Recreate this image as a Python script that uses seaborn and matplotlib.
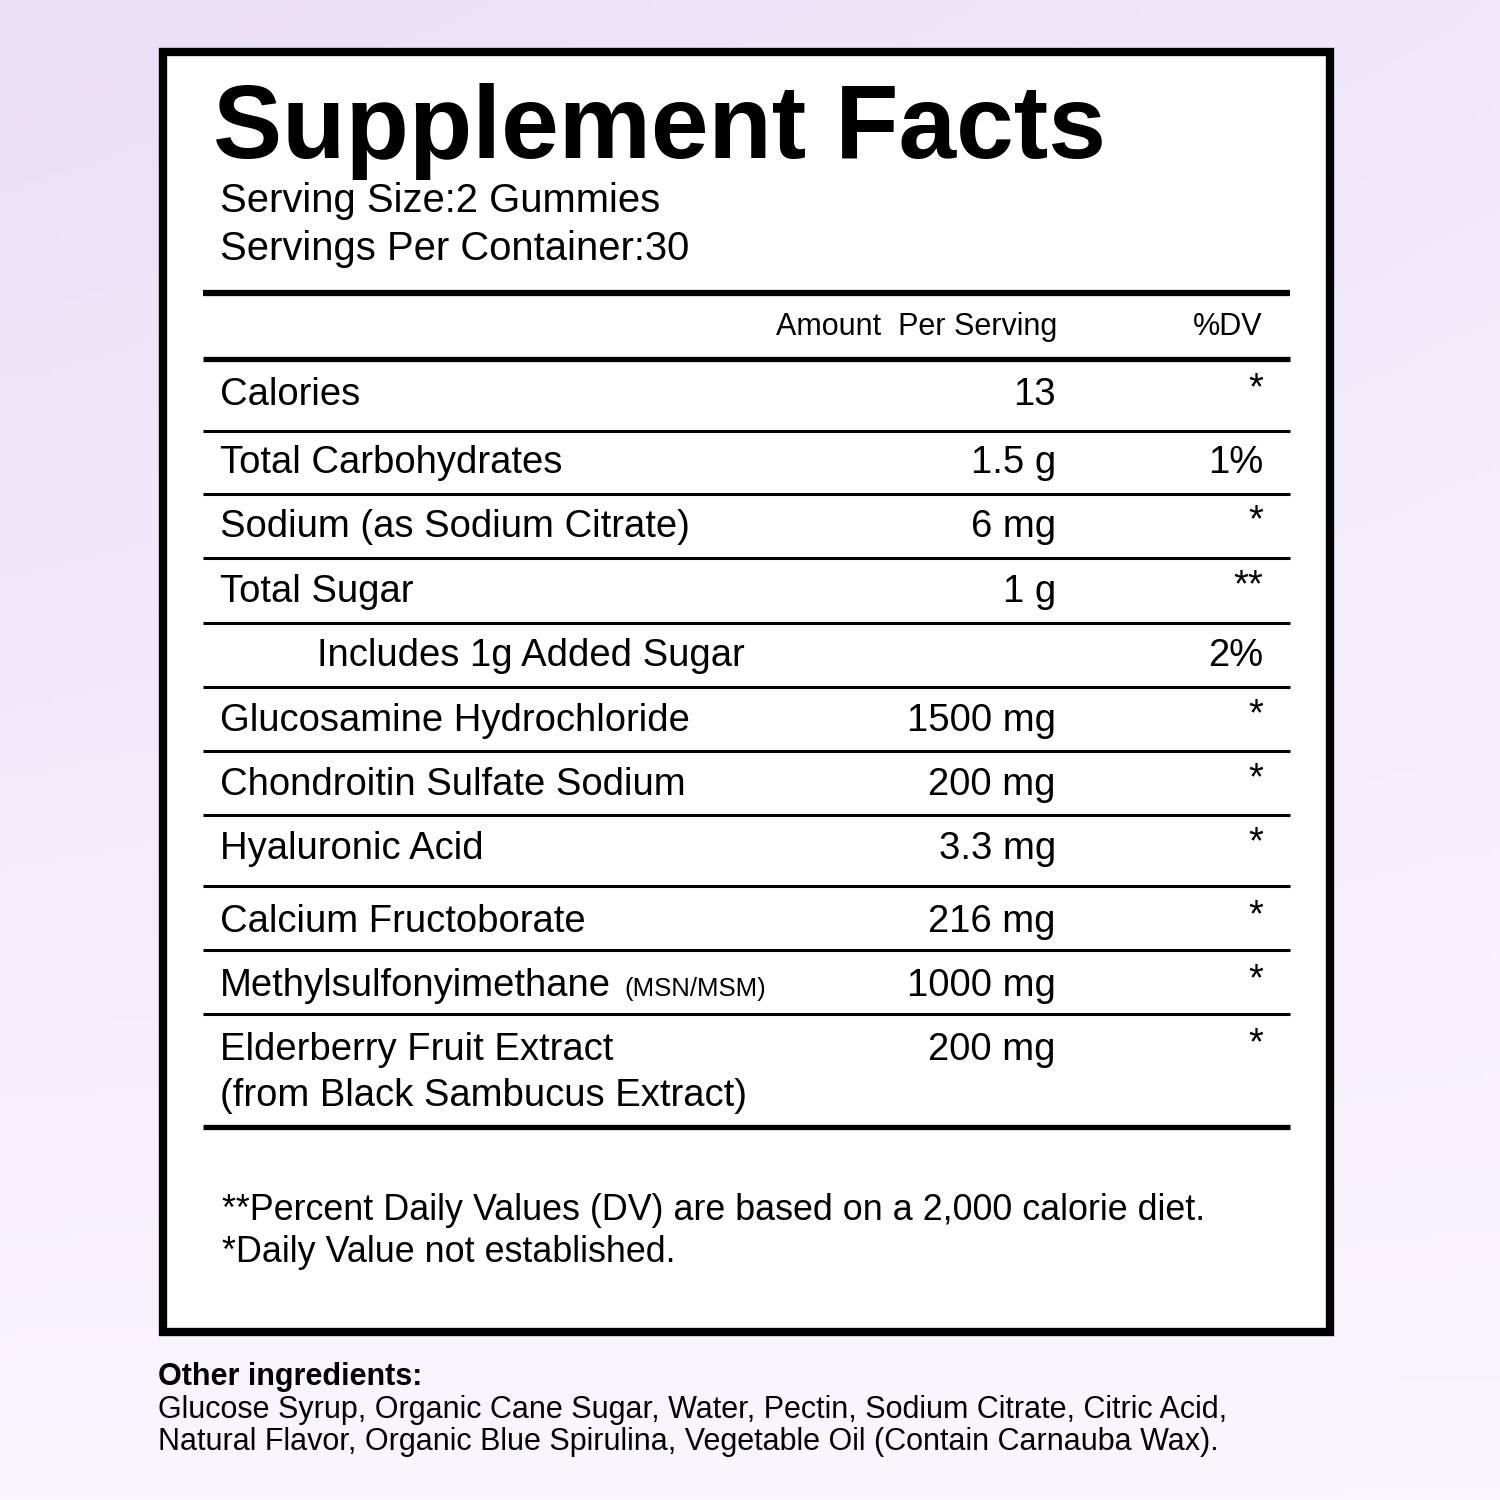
import numpy as np
import matplotlib
matplotlib.use("Agg")
import matplotlib.pyplot as plt
import seaborn as sns

sns.set_theme(style="white")
plt.rcParams['font.family'] = ['Liberation Sans', 'DejaVu Sans']
plt.rcParams['text.color'] = 'black'

title = "Supplement Facts"
serving_lines = ["Serving Size:2 Gummies", "Servings Per Container:30"]
nutrients = ["Calories", "Total Carbohydrates", "Sodium (as Sodium Citrate)", "Total Sugar",
             "Includes 1g Added Sugar", "Glucosamine Hydrochloride", "Chondroitin Sulfate Sodium",
             "Hyaluronic Acid", "Calcium Fructoborate", "Methylsulfonyimethane",
             "Elderberry Fruit Extract"]
amounts = ["13", "1.5 g", "6 mg", "1 g", "", "1500 mg", "200 mg", "3.3 mg", "216 mg", "1000 mg", "200 mg"]
dvs = ["*", "1%", "*", "**", "2%", "*", "*", "*", "*", "*", "*"]
footnotes = ["**Percent Daily Values (DV) are based on a 2,000 calorie diet.",
             "*Daily Value not established."]
other_title = "Other ingredients:"
other_lines = ["Glucose Syrup, Organic Cane Sugar, Water, Pectin, Sodium Citrate, Citric Acid,",
               "Natural Flavor, Organic Blue Spirulina, Vegetable Oil (Contain Carnauba Wax)."]

row_y = [395, 463, 527, 592, 656, 721, 785, 849, 922, 986, 1050]
line_y = [431, 494, 558, 623, 687, 751, 815, 886, 950, 1014]

fig = plt.figure(figsize=(15, 15), dpi=100)
ax = fig.add_axes([0, 0, 1, 1])
ax.set_xlim(0, 1500); ax.set_ylim(1500, 0); ax.axis('off')

yy, xx = np.mgrid[0:1:200j, 0:1:200j]
t = np.clip(0.55 * (1 - yy) + 0.35 * (1 - xx) * (1 - yy) + 0.15, 0, 1)
c1 = np.array([0.99, 0.98, 1.0]); c2 = np.array([0.92, 0.88, 0.97])
img = c1 + (c2 - c1) * t[..., None]
ax.imshow(img, extent=[0, 1500, 1500, 0], aspect='auto', zorder=0)

ax.add_patch(plt.Rectangle((163, 52), 1167, 1280, facecolor='white', edgecolor='black', lw=6, zorder=1))

ax.text(213, 158, title, fontsize=74.7, fontweight='bold', va='baseline', zorder=3)
ax.text(220, 201, serving_lines[0], fontsize=28.8, va='center', zorder=3)
ax.text(220, 249, serving_lines[1], fontsize=28.8, va='center', zorder=3)

def hline(y, lw):
    ax.plot([203, 1290], [y, y], color='black', lw=lw, solid_capstyle='butt', zorder=2)

hline(293, 4.5)
ax.text(1057, 327, "Amount  Per Serving", fontsize=22, ha='right', va='center', zorder=3)
ax.text(1263, 327, "%DV", fontsize=22, ha='right', va='center', zorder=3)
hline(359, 3.8)
for y in line_y:
    hline(y, 2.2)
hline(1127, 3.8)

fs = 27.5
for n, a, d, y in zip(nutrients, amounts, dvs, row_y):
    x = 317 if n.startswith("Includes") else 220
    ax.text(x, y, n, fontsize=fs, va='center', zorder=3)
    if n.startswith("Methyl"):
        ax.text(624, y + 3, "(MSN/MSM)", fontsize=18.5, va='center', zorder=3)
    ax.text(1056, y, a, fontsize=fs, ha='right', va='center', zorder=3)
    dy = -6 if d.startswith("*") else 0
    ax.text(1263, y + dy, d, fontsize=fs, ha='right', va='center', zorder=3)
ax.text(220, 1096, "(from Black Sambucus Extract)", fontsize=fs, va='center', zorder=3)

ax.text(222, 1210, footnotes[0], fontsize=25.8, va='center', zorder=3)
ax.text(222, 1252, footnotes[1], fontsize=25.8, va='center', zorder=3)

ax.text(158, 1377, other_title, fontsize=22, fontweight='bold', va='center', zorder=3)
ax.text(158, 1410, other_lines[0], fontsize=22, va='center', zorder=3)
ax.text(158, 1442, other_lines[1], fontsize=22, va='center', zorder=3)

fig.savefig("out.png", dpi=100)
